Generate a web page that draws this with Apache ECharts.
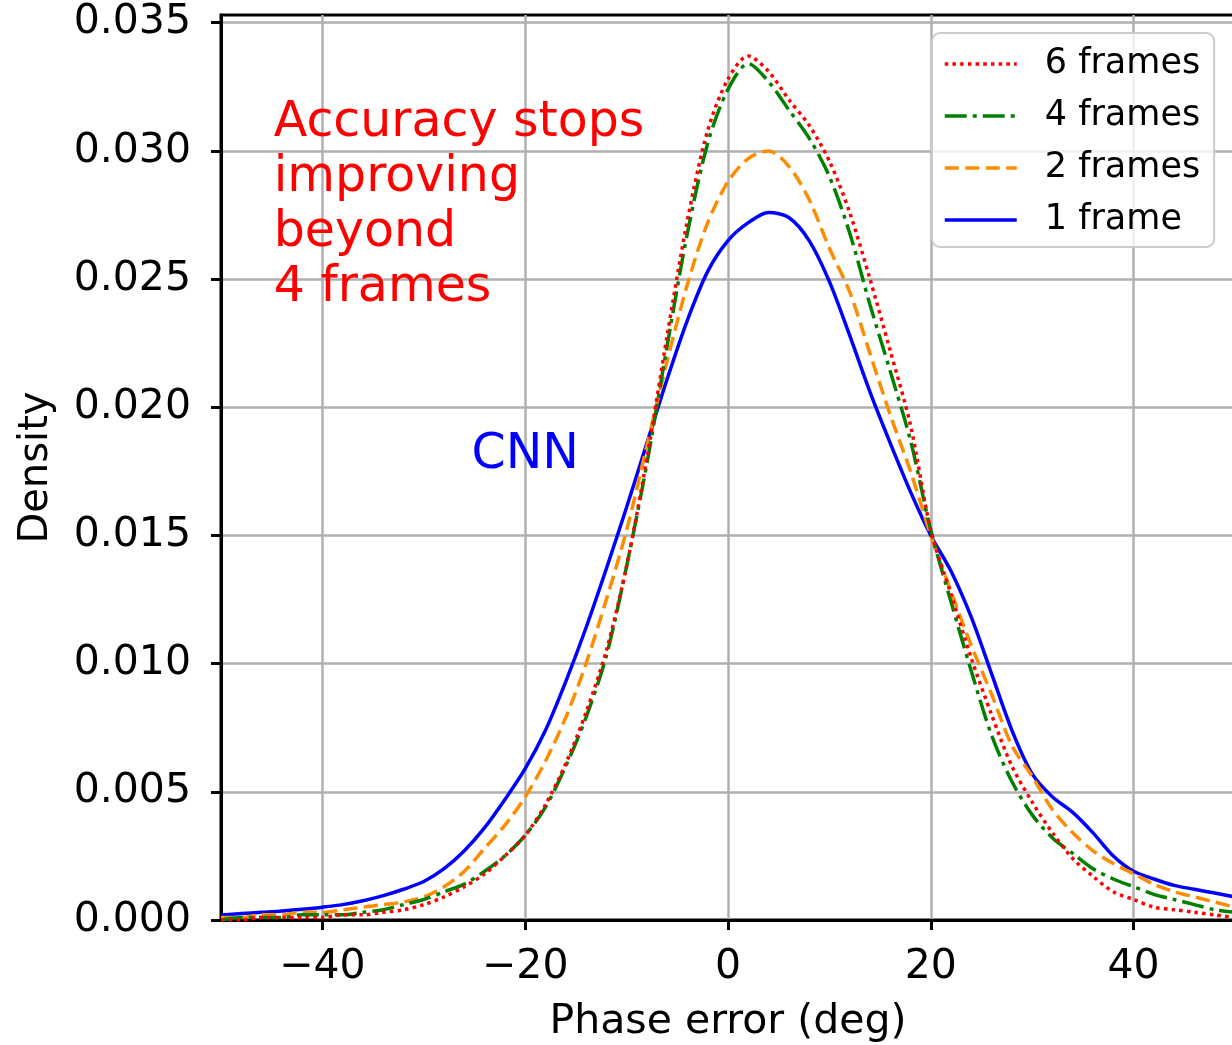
<!DOCTYPE html>
<html>
<head>
<meta charset="utf-8">
<script src="https://cdn.jsdelivr.net/npm/echarts@6/dist/echarts.min.js"></script>
<style>
html,body{margin:0;padding:0;background:#fff;}
#chart{width:1232px;height:1045px;}
</style>
</head>
<body>
<div id="chart"></div>
<script>
// Phase error grid (deg), step 2
const phaseError = [-50,-48,-46,-44,-42,-40,-38,-36,-34,-32,-30,-28,-26,-24,-22,-20,-18,-16,-14,-12,-10,-8,-6,-4,-2,0,2,4,6,8,10,12,14,16,18,20,22,24,26,28,30,32,34,36,38,40,42,44,46,48,50];

const frames6 = [0.0000,0.0000,0.0001,0.0001,0.0001,0.0001,0.0002,0.0002,0.0003,0.0004,0.0006,0.0009,0.0013,0.0018,0.0025,0.0033,0.0045,0.0061,0.0081,0.0105,0.0138,0.0180,0.0228,0.0273,0.0308,0.0328,0.0337,0.0331,0.0320,0.0310,0.0296,0.0276,0.0250,0.0222,0.0193,0.0152,0.0127,0.0102,0.0080,0.0060,0.0046,0.0034,0.0024,0.0017,0.0011,0.0008,0.0005,0.0004,0.0003,0.0002,0.0001];

const frames4 = [0.0000,0.0001,0.0001,0.0001,0.0002,0.0002,0.0002,0.0003,0.0004,0.0006,0.0008,0.0011,0.0014,0.0019,0.0025,0.0033,0.0044,0.0060,0.0079,0.0103,0.0138,0.0178,0.0224,0.0268,0.0303,0.0324,0.0334,0.0327,0.0316,0.0305,0.0290,0.0268,0.0240,0.0214,0.0187,0.0152,0.0124,0.0097,0.0072,0.0054,0.0041,0.0032,0.0026,0.0020,0.0016,0.0013,0.0010,0.0008,0.0006,0.0004,0.0003];

const frames2 = [0.0001,0.0001,0.0002,0.0002,0.0003,0.0003,0.0004,0.0005,0.0006,0.0007,0.0009,0.0013,0.0019,0.0028,0.0037,0.0048,0.0062,0.0079,0.0100,0.0125,0.0152,0.0185,0.0218,0.0248,0.0272,0.0288,0.0297,0.0300,0.0294,0.0281,0.0262,0.0245,0.0221,0.0197,0.0175,0.0150,0.0128,0.0107,0.0088,0.0068,0.0056,0.0043,0.0034,0.0027,0.0022,0.0018,0.0014,0.0011,0.0009,0.0007,0.0005];

const frames1 = [0.0002,0.00025,0.0003,0.00035,0.00042,0.0005,0.0006,0.00075,0.00095,0.0012,0.0015,0.0020,0.0027,0.0036,0.0047,0.0059,0.0074,0.0093,0.0114,0.0137,0.0161,0.0186,0.0211,0.0234,0.0253,0.0265,0.0272,0.0276,0.0274,0.0265,0.0249,0.0228,0.0206,0.0186,0.0167,0.0150,0.0136,0.0118,0.0096,0.0074,0.0057,0.0048,0.0042,0.0034,0.0025,0.0019,0.0016,0.00135,0.0012,0.00105,0.0009];

const seriesNames = ['6 frames','4 frames','2 frames','1 frame'];
const xTicks = [-40,-20,0,20,40];
const yTicks = [0,0.005,0.010,0.015,0.020,0.025,0.030,0.035];
const annotationText = 'Accuracy stops\nimproving\nbeyond\n4 frames';
const annotationAnchor = [-44.8, 0.03215];
const cnnText = 'CNN';
const cnnAnchor = [-20.0, 0.01814];

const FONT = 'DejaVu Sans';
const pair = ys => phaseError.map((x,i)=>[x, ys[i]]);

const chart = echarts.init(document.getElementById('chart'), null, {renderer:'canvas'});

const baseLine = {type:'line', symbol:'none', showSymbol:false, smooth:0.3, z:3};
const option = {
  animation:false,
  backgroundColor:'#fff',
  textStyle:{fontFamily:FONT},
  grid:{left:221, top:15, right:-3, bottom:125, containLabel:false, outerBoundsMode:'none',
    show:true, borderColor:'#000', borderWidth:3, backgroundColor:'transparent'},
  xAxis:{
    type:'value', min:-50, max:50, splitNumber:5,
    axisLine:{onZero:false, lineStyle:{color:'#000', width:3}},
    axisTick:{show:true, length:10, customValues:xTicks, lineStyle:{color:'#000', width:3}},
    axisLabel:{customValues:xTicks, fontSize:41, color:'#000', fontFamily:FONT, margin:27,
      formatter:v => v < 0 ? '\u2212' + Math.abs(v) : String(v)},
    splitLine:{show:true, lineStyle:{color:'#b0b0b0', width:2.5}},
    name:'Phase error (deg)', nameLocation:'middle', nameGap:82,
    nameTextStyle:{fontSize:41, color:'#000', fontFamily:FONT}
  },
  yAxis:{
    type:'value', min:0, max:0.0353, splitNumber:7,
    axisLine:{show:true, onZero:false, lineStyle:{color:'#000', width:3}},
    axisTick:{show:true, length:10, customValues:yTicks, lineStyle:{color:'#000', width:3}},
    axisLabel:{customValues:yTicks, fontSize:41, color:'#000', fontFamily:FONT, margin:30,
      formatter:v => v.toFixed(3)},
    splitLine:{show:true, lineStyle:{color:'#b0b0b0', width:2.5}},
    name:'Density', nameLocation:'middle', nameGap:164, nameRotate:90,
    nameTextStyle:{fontSize:40, color:'#000', fontFamily:FONT}
  },
  legend:{
    orient:'vertical', left:932, top:33,
    data:seriesNames,
    itemWidth:72, itemHeight:14, itemGap:12,
    padding:[11,14,7,11],
    backgroundColor:'rgba(255,255,255,0.8)',
    borderColor:'#cccccc', borderWidth:2, borderRadius:8,
    itemStyle:{opacity:0},
    lineStyle:{width:3.5},
    textStyle:{fontSize:35, color:'#000', fontFamily:FONT, lineHeight:40, padding:[0,0,0,23]}
  },
  series:[
    Object.assign({}, baseLine, {name:seriesNames[0], data:pair(frames6), z:6, color:'#ff0000',
      lineStyle:{color:'#ff0000', width:3.5, type:[3.5,4.2], cap:'butt'}}),
    Object.assign({}, baseLine, {name:seriesNames[1], data:pair(frames4), z:5, color:'#008000',
      lineStyle:{color:'#008000', width:3.5, type:[22,6,4,6], cap:'butt'}}),
    Object.assign({}, baseLine, {name:seriesNames[2], data:pair(frames2), z:4, color:'#ff8c00',
      lineStyle:{color:'#ff8c00', width:3.5, type:[14,6.5], cap:'butt'}}),
    Object.assign({}, baseLine, {name:seriesNames[3], data:pair(frames1), z:3, color:'#0000ff',
      lineStyle:{color:'#0000ff', width:3.5, type:'solid'}})
  ]
};
chart.setOption(option);

const p1 = chart.convertToPixel({gridIndex:0}, annotationAnchor);
const p2 = chart.convertToPixel({gridIndex:0}, cnnAnchor);
chart.setOption({
  graphic:[
    {type:'text', x:p1[0], y:p1[1], z:10,
      style:{text:annotationText, fill:'#ff0000', fontSize:49, fontFamily:FONT, lineHeight:55,
        textAlign:'left', textVerticalAlign:'top'}},
    {type:'text', x:p2[0], y:p2[1], z:10,
      style:{text:cnnText, fill:'#0000ff', fontSize:49, fontFamily:FONT,
        textAlign:'center', textVerticalAlign:'middle'}}
  ]
});
</script>
</body>
</html>
